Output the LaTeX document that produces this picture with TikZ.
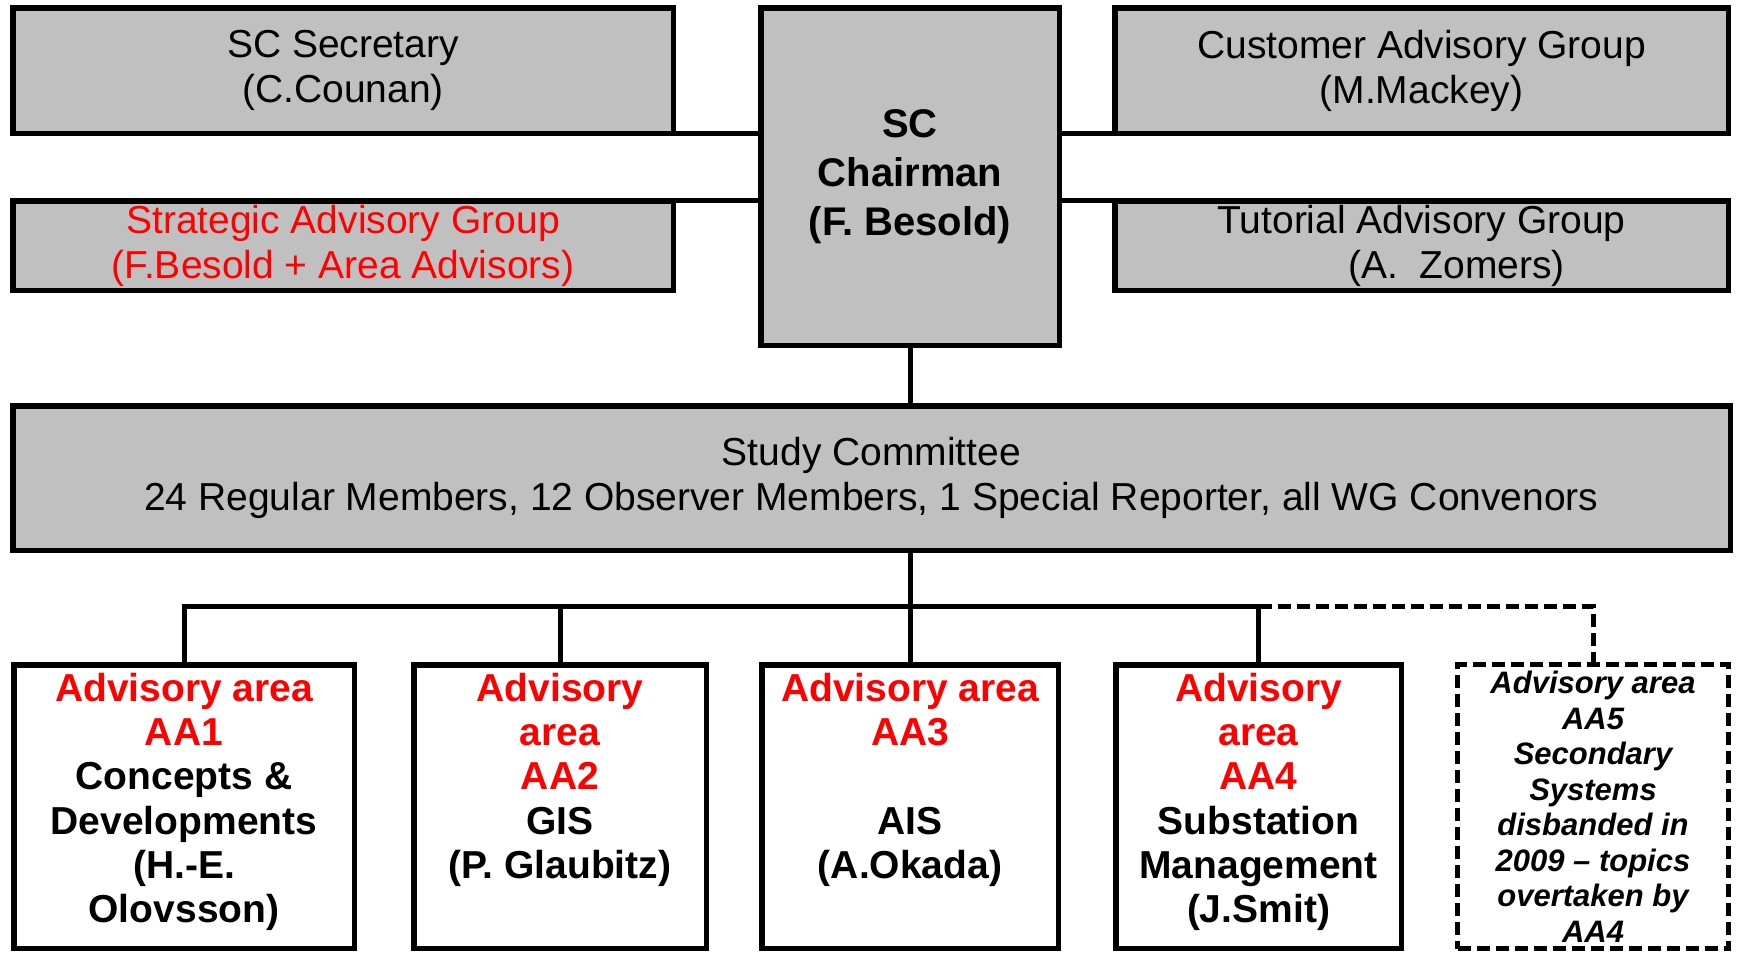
\documentclass[tikz,border=0pt]{standalone}
\usepackage{fontspec}
\setmainfont{Liberation Sans}
\definecolor{boxgrey}{RGB}{192,192,192}
\definecolor{aared}{RGB}{255,0,0}
\begin{document}
\begin{tikzpicture}[x=1pt,y=-1pt,
  gbox/.style={draw=black, line width=5.5pt, fill=boxgrey, inner sep=0pt, outer sep=0pt, align=center, font=\fontsize{39}{45}\selectfont},
  wbox/.style={draw=black, line width=5.5pt, fill=white, inner sep=0pt, outer sep=0pt},
  dbox/.style={draw=black, line width=5pt, fill=white, inner sep=0pt, outer sep=0pt, dash pattern=on 13pt off 6pt},
  conn/.style={line width=5pt, line join=miter},
  dconn/.style={line width=5pt, line join=miter, dash pattern=on 13pt off 6pt},
  aatext/.style={anchor=north, inner sep=0pt, align=center, font=\fontsize{39}{44.2}\selectfont\bfseries},
  aa5text/.style={anchor=north, inner sep=0pt, align=center, font=\fontsize{31}{35.5}\selectfont\bfseries\itshape},
]
\useasboundingbox (0,0) rectangle (1740,953);

% top row
\node[gbox, minimum width=660.5pt, minimum height=125.5pt] (sec) at (343,70.5)
  {SC Secretary\\(C.Counan)};
\node[gbox, minimum width=660.5pt, minimum height=89.5pt, text=aared] (str) at (343,245.5)
  {Strategic Advisory Group\\(F.Besold + Area Advisors)};
\node[gbox, minimum width=298.5pt, minimum height=337.5pt, font=\fontsize{40}{49}\selectfont\bfseries] (chair) at (910,176.5)
  {SC\\Chairman\\(F. Besold)};
\node[gbox, minimum width=613.5pt, minimum height=125.5pt] (cust) at (1421.5,70.5)
  {Customer Advisory Group\\(M.Mackey)};
\node[gbox, minimum width=613.5pt, minimum height=89.5pt] (tut) at (1421.5,245.5)
  {Tutorial Advisory Group\\\hspace*{70pt}(A.~~Zomers)};

% study committee
\node[gbox, minimum width=1717.5pt, minimum height=144.5pt] (sc) at (871.5,478)
  {Study Committee\\24 Regular Members, 12 Observer Members, 1 Special Reporter, all WG Convenors};

% advisory areas
\node[wbox, minimum width=340.5pt, minimum height=283.5pt] (aa1) at (184,806.5) {};
\node[wbox, minimum width=292.5pt, minimum height=283.5pt] (aa2) at (560,806.5) {};
\node[wbox, minimum width=296.5pt, minimum height=283.5pt] (aa3) at (910,806.5) {};
\node[wbox, minimum width=285.5pt, minimum height=283.5pt] (aa4) at (1258.5,806.5) {};
\node[dbox, minimum width=271pt, minimum height=284pt] (aa5) at (1593,806.5) {};

\node[aatext] (aa1t) at (184,673)
  {\textcolor{aared}{Advisory area}\\\textcolor{aared}{AA1}\\Concepts \&\\Developments\\(H.-E.\\Olovsson)};
\node[aatext] (aa2t) at (560,673)
  {\textcolor{aared}{Advisory}\\\textcolor{aared}{area}\\\textcolor{aared}{AA2}\\GIS\\(P. Glaubitz)};
\node[aatext] (aa3t) at (910,673)
  {\textcolor{aared}{Advisory area}\\\textcolor{aared}{AA3}\\[44.2pt]AIS\\(A.Okada)};
\node[aatext] (aa4t) at (1258.5,673)
  {\textcolor{aared}{Advisory}\\\textcolor{aared}{area}\\\textcolor{aared}{AA4}\\Substation\\Management\\(J.Smit)};
\node[aa5text] (aa5t) at (1593,671)
  {Advisory area\\AA5\\Secondary\\Systems\\disbanded in\\2009 – topics\\overtaken by\\AA4};

% connectors
\coordinate (bus) at (0,606);
\draw[conn] (sec.south east) -- (sec.south east -| chair.west);
\draw[conn] (str.north east) -- (str.north east -| chair.west);
\draw[conn] (cust.south west) -- (cust.south west -| chair.east);
\draw[conn] (tut.north west) -- (tut.north west -| chair.east);
\draw[conn] (chair.south) -- (chair.south |- sc.north);
\draw[conn] (chair.south |- sc.south) -- (aa3.north);
\draw[conn] (aa1.north) -- (aa1.north |- bus) -- (aa4.north |- bus) -- (aa4.north);
\draw[conn] (aa2.north |- bus) -- (aa2.north);
\draw[dconn] (aa4.north |- bus) -- (aa5.north |- bus) -- (aa5.north);
\end{tikzpicture}
\end{document}
